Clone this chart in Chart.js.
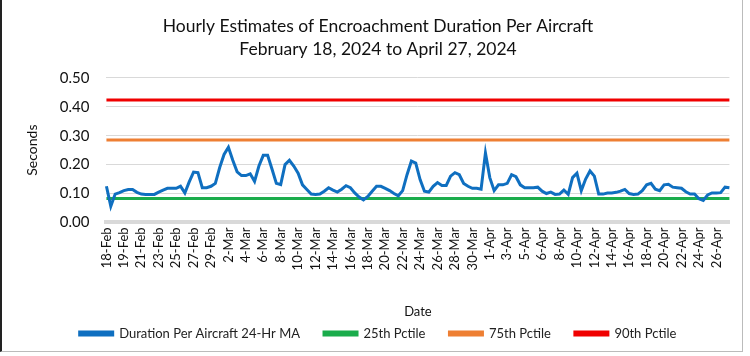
<!DOCTYPE html>
<html>
<head>
<meta charset="utf-8">
<script src="https://cdn.jsdelivr.net/npm/chart.js@4/dist/chart.umd.min.js"></script>
<style>
html,body{margin:0;padding:0;background:#fff;}
#wrap{position:relative;width:750px;height:356px;overflow:hidden;}
#frame{position:absolute;left:0;top:-2px;width:740px;height:353px;border-left:2px solid #222;border-right:1px solid #bbb;border-bottom:1px solid #bbb;pointer-events:none;}
</style>
</head>
<body>
<div id="wrap"><canvas id="c" width="750" height="356"></canvas><div id="frame"></div></div>
<script>
const dateLabels = ["18-Feb","19-Feb","21-Feb","23-Feb","25-Feb","27-Feb","29-Feb","2-Mar","4-Mar","6-Mar","8-Mar","10-Mar","12-Mar","14-Mar","16-Mar","18-Mar","20-Mar","22-Mar","24-Mar","26-Mar","28-Mar","30-Mar","1-Apr","3-Apr","5-Apr","6-Apr","8-Apr","10-Apr","12-Apr","14-Apr","16-Apr","18-Apr","20-Apr","22-Apr","24-Apr","26-Apr"];
const pointsPerLabel = 4;

const durationMA = [
0.125,0.056,0.098,0.103,0.110,0.114,0.114,0.104,0.098,0.097,
0.097,0.097,0.105,0.112,0.118,0.118,0.118,0.125,0.102,0.140,
0.174,0.172,0.120,0.120,0.125,0.135,0.190,0.235,0.260,0.215,
0.175,0.162,0.162,0.168,0.142,0.195,0.232,0.232,0.185,0.135,
0.131,0.200,0.215,0.195,0.170,0.130,0.114,0.098,0.097,0.098,
0.108,0.120,0.112,0.105,0.115,0.127,0.120,0.102,0.088,0.078,
0.090,0.108,0.125,0.125,0.118,0.110,0.100,0.092,0.110,0.165,
0.212,0.205,0.148,0.108,0.105,0.125,0.138,0.128,0.128,0.160,
0.172,0.165,0.135,0.125,0.118,0.118,0.115,0.240,0.155,0.110,
0.130,0.130,0.135,0.165,0.158,0.130,0.120,0.120,0.120,0.122,
0.108,0.100,0.105,0.097,0.098,0.112,0.097,0.155,0.170,0.110,
0.150,0.178,0.160,0.098,0.098,0.102,0.102,0.104,0.108,0.114,
0.100,0.097,0.098,0.110,0.130,0.135,0.115,0.110,0.130,0.132,
0.122,0.120,0.118,0.106,0.098,0.098,0.082,0.076,0.095,0.102,
0.102,0.103,0.122,0.120
];
const pctile25 = 0.083;
const pctile75 = 0.285;
const pctile90 = 0.423;
const yTicks = [0.00,0.10,0.20,0.30,0.40,0.50];

const labels = durationMA.map((v,i)=> (i % pointsPerLabel === 0 && (i/pointsPerLabel) < dateLabels.length) ? dateLabels[i/pointsPerLabel] : '');
const flat = v => durationMA.map(()=>v);

const FONT = 'Lato, "Liberation Sans", sans-serif';
const lineDs = (label, data, color) => ({label, data, borderColor: color, backgroundColor: color, borderWidth: 3, pointRadius: 0, tension: 0, fill: false});

new Chart(document.getElementById('c'), {
  type: 'line',
  data: {
    labels,
    datasets: [
      lineDs('Duration Per Aircraft 24-Hr MA', durationMA, '#0f6fc0'),
      lineDs('25th Pctile', flat(pctile25), '#1aac4b'),
      lineDs('75th Pctile', flat(pctile75), '#ee7f33'),
      lineDs('90th Pctile', flat(pctile90), '#f00000')
    ]
  },
  options: {
    responsive: false,
    animation: false,
    layout: {padding: {left: 24, right: 18, top: 4, bottom: 6}},
    plugins: {
      title: {display: true, text: ['Hourly Estimates of Encroachment Duration Per Aircraft','February 18, 2024 to April 27, 2024'], color: '#111', font: {family: FONT, size: 17.5, weight: 'normal', lineHeight: 1.31}, padding: {top: 11, bottom: 17}},
      legend: {position: 'bottom', labels: {boxWidth: 33, boxHeight: 3, padding: 24, color: '#222', font: {family: FONT, size: 13}}},
      tooltip: {enabled: false}
    },
    scales: {
      x: {
        grid: {display: false, drawTicks: false},
        border: {display: true, color: '#d9d9d9', width: 4},
        ticks: {autoSkip: false, maxRotation: 90, minRotation: 90, padding: 5, color: '#111', font: {family: FONT, size: 13}},
        title: {display: true, text: 'Date', color: '#111', font: {family: FONT, size: 13}, padding: {top: 29, bottom: -17}}
      },
      y: {
        min: 0, max: 0.5,
        afterBuildTicks: s => { s.ticks = yTicks.map(v => ({value: v})); },
        grid: {color: '#d9d9d9', lineWidth: 1, drawTicks: false},
        border: {display: false},
        ticks: {padding: 17, color: '#111', font: {family: FONT, size: 15}, callback: v => Number(v).toFixed(2)},
        title: {display: true, text: 'Seconds', color: '#111', font: {family: FONT, size: 14}, padding: {top: 0, bottom: 2}}
      }
    }
  }
});
</script>
</body>
</html>
